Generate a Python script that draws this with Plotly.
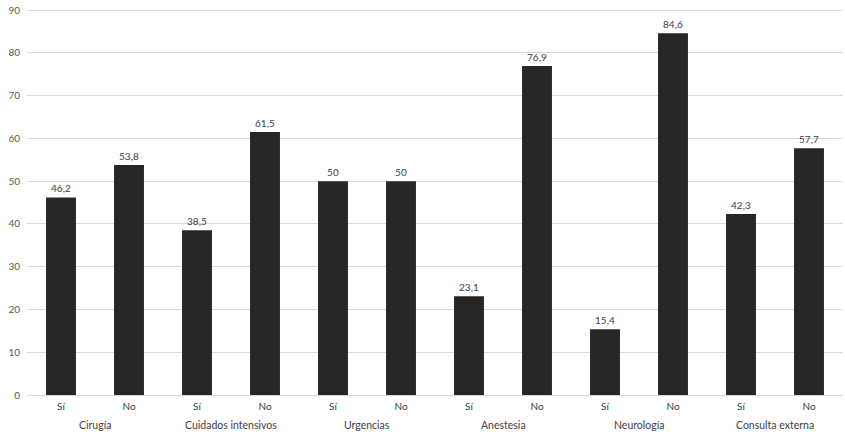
import plotly.graph_objects as go

groups = ["Cirugía", "Cuidados intensivos", "Urgencias", "Anestesia", "Neurología", "Consulta externa"]
answers = ["Sí", "No"]
values = [46.2, 53.8, 38.5, 61.5, 50, 50, 23.1, 76.9, 15.4, 84.6, 42.3, 57.7]
labels = ["46,2", "53,8", "38,5", "61,5", "50", "50", "23,1", "76,9", "15,4", "84,6", "42,3", "57,7"]

x_keys = [f"{g} · {a}" for g in groups for a in answers]
x_answers = [a for _ in groups for a in answers]

fig = go.Figure(go.Bar(
    x=x_keys,
    y=values,
    text=labels,
    textposition="outside",
    textfont=dict(size=10, color="#404040"),
    marker=dict(color="#262626", line=dict(width=0)),
    cliponaxis=False,
))

# group labels centred under each Sí/No pair (category positions on the x axis)
n = len(answers)
for i, g in enumerate(groups):
    fig.add_annotation(
        x=i * n + (n - 1) / 2, xref="x", y=0, yref="paper",
        yanchor="top", yshift=-22, text=g, showarrow=False,
        font=dict(size=10.5, color="#404040"),
    )

fig.update_layout(
    width=845, height=437,
    margin=dict(l=27, r=2, t=9, b=42, autoexpand=False),
    paper_bgcolor="white", plot_bgcolor="white",
    font=dict(family="Lato, Open Sans, sans-serif", size=10, color="#404040"),
    bargap=0.56,
    showlegend=False,
    xaxis=dict(
        type="category", tickvals=x_keys, ticktext=x_answers, automargin=False,
        showline=True, linecolor="#d9d9d9", linewidth=1,
        tickfont=dict(size=10, color="#404040"),
        ticks="", ticklabelstandoff=2,
    ),
    yaxis=dict(
        range=[0, 90.25], tick0=0, dtick=10, showgrid=True, gridcolor="#d9d9d9", gridwidth=1,
        zeroline=False, showline=False, ticks="", automargin=False,
        tickfont=dict(size=10, color="#595959"), ticklabelstandoff=6,
    ),
)

fig.write_html(
    "out.html",
    config={"displayModeBar": False},
    post_script="document.body.style.margin='0';document.body.style.overflow='hidden';",
)
